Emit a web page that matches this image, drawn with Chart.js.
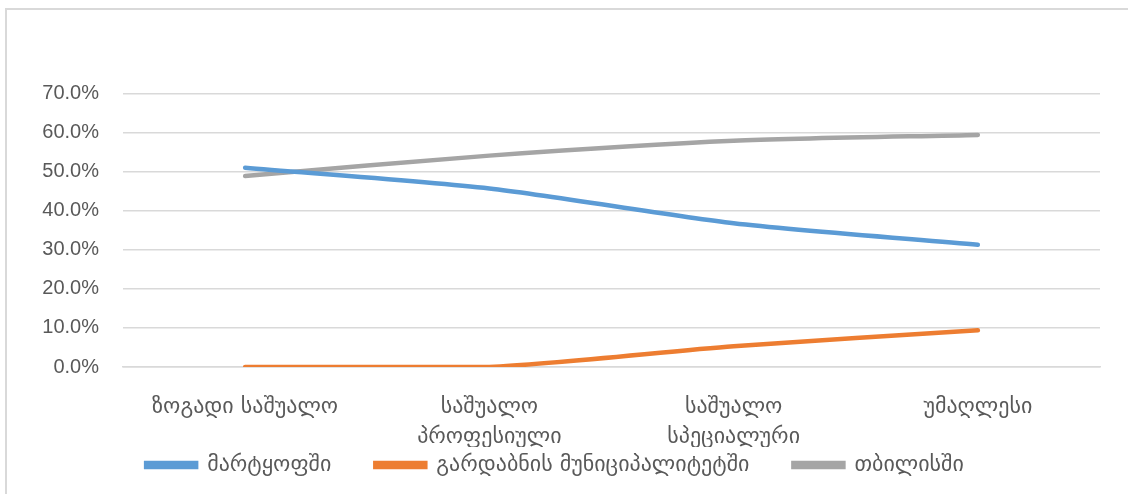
<!DOCTYPE html>
<html>
<head>
<meta charset="utf-8">
<script src="https://cdn.jsdelivr.net/npm/chart.js@4"></script>
<style>
  html, body { margin: 0; padding: 0; background: #fff; }
  #frame {
    position: absolute; left: 5px; top: 8px; width: 1130px; height: 490px;
    border-top: 2px solid #d9d9d9; border-left: 2px solid #d9d9d9;
  }
  #wrap { position: absolute; left: 0; top: 0; width: 1128px; height: 494px; }
</style>
</head>
<body>
<div id="frame"></div>
<div id="wrap"><canvas id="chart"></canvas></div>
<script>
  // education level categories (two-line labels where Excel wrapped them)
  var categories = [
    "ზოგადი საშუალო",
    ["საშუალო", "პროფესიული"],
    ["საშუალო", "სპეციალური"],
    "უმაღლესი"
  ];

  var martkopi = [51.0, 45.7, 36.8, 31.3];
  var gardabani = [0.0, 0.0, 5.3, 9.4];
  var tbilisi = [48.9, 54.1, 57.9, 59.4];

  var yMax = 70;
  var yStep = 10;

  var latinFont = "'Liberation Sans', 'DejaVu Sans', sans-serif";
  var georgianFont = "'DejaVu Sans', sans-serif";
  var textColor = "#595959";

  function series(label, data, color) {
    return {
      label: label,
      data: data,
      borderColor: color,
      backgroundColor: color,
      borderWidth: 4.5,
      borderCapStyle: "round",
      pointRadius: 0,
      pointHoverRadius: 0,
      tension: 0.25,
      fill: false
    };
  }

  // legend padding also sets the gap between items, so pull the legend back up
  var legendLift = {
    id: "legendLift",
    afterLayout: function (chart) {
      chart.legend.top -= 37;
      chart.legend.bottom -= 37;
    }
  };

  new Chart(document.getElementById("chart"), {
    type: "line",
    data: {
      labels: categories,
      datasets: [
        series("მარტყოფში", martkopi, "#5b9bd5"),
        series("გარდაბნის მუნიციპალიტეტში", gardabani, "#ed7d31"),
        series("თბილისში", tbilisi, "#a5a5a5")
      ]
    },
    plugins: [legendLift],
    options: {
      responsive: true,
      maintainAspectRatio: false,
      animation: false,
      layout: { padding: { top: 93.5, right: 28, left: 10, bottom: -29 } },
      scales: {
        x: {
          offset: true,
          grid: { display: false, drawTicks: false },
          border: { color: "#d9d9d9", width: 1.5 },
          ticks: {
            color: textColor,
            font: { family: georgianFont, size: 22, lineHeight: 1.37 },
            padding: 25,
            maxRotation: 0,
            autoSkip: false
          },
          afterFit: function (scale) { scale.height = 80; }
        },
        y: {
          min: 0,
          max: yMax,
          grid: { color: "#d9d9d9", lineWidth: 1.5, drawTicks: false },
          border: { display: false },
          ticks: {
            stepSize: yStep,
            color: textColor,
            font: { family: latinFont, size: 20 },
            padding: 24,
            callback: function (v) { return v.toFixed(1) + "%"; }
          },
          afterFit: function (scale) { scale.width = 113; }
        }
      },
      plugins: {
        legend: {
          position: "bottom",
          labels: {
            color: textColor,
            font: { family: georgianFont, size: 22 },
            boxWidth: 50,
            boxHeight: 4,
            padding: 44
          }
        },
        tooltip: { enabled: false }
      }
    }
  });
</script>
</body>
</html>
